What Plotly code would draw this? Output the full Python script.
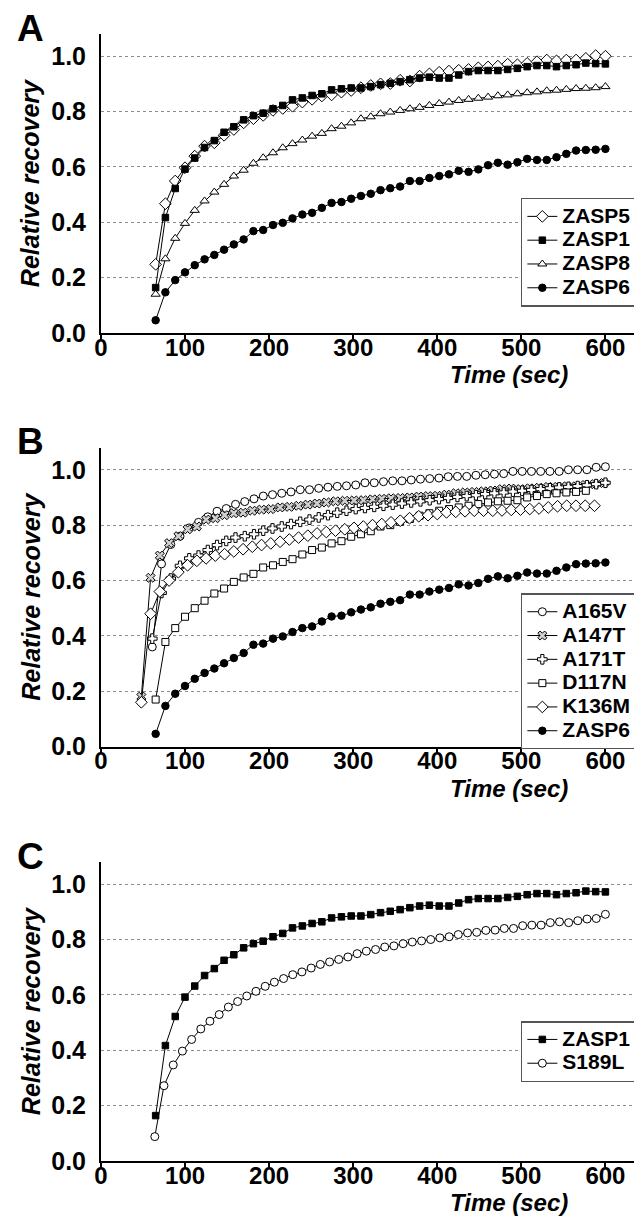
import plotly.graph_objects as go

FONT = "Liberation Sans, Arial, Helvetica, sans-serif"

# ---------------- time grids (sec) ----------------
t_a = [65.0, 76.6, 88.3, 99.9, 111.5, 123.2, 134.8, 146.4, 158.0, 169.7, 181.3, 192.9,
       204.6, 216.2, 227.8, 239.5, 251.1, 262.7, 274.3, 286.0, 297.6, 309.2, 320.9, 332.5,
       344.1, 355.8, 367.4, 379.0, 390.6, 402.3, 413.9, 425.5, 437.2, 448.8, 460.4, 472.1,
       483.7, 495.3, 506.9, 518.6, 530.2, 541.8, 553.5, 565.1, 576.7, 588.4, 600.0]
t_b61 = [61, 72, 83, 94, 105, 116, 127, 138, 149, 160, 171, 182, 193, 204, 215, 226, 237,
         248, 259, 270, 281, 292, 303, 314, 325, 336, 347, 358, 369, 380, 391, 402, 413, 424,
         435, 446, 457, 468, 479, 490, 501, 512, 523, 534, 545, 556, 567, 578, 589, 600]
t_b48 = [48, 59, 70, 81, 92, 103, 114, 125, 136, 147, 158, 169, 180, 191, 202, 213, 224,
         235, 246, 257, 268, 279, 290, 301, 312, 323, 334, 345, 356, 367, 378, 389, 400, 411,
         422, 433, 444, 455, 466, 477, 488, 499, 510, 521, 532, 543, 554, 565, 576, 587, 598]
t_c = [64.0, 74.9, 85.9, 96.8, 107.8, 118.7, 129.6, 140.6, 151.5, 162.5, 173.4, 184.3,
       195.3, 206.2, 217.2, 228.1, 239.0, 250.0, 260.9, 271.9, 282.8, 293.7, 304.7, 315.6,
       326.6, 337.5, 348.4, 359.4, 370.3, 381.3, 392.2, 403.1, 414.1, 425.0, 436.0, 446.9,
       457.8, 468.8, 479.7, 490.7, 501.6, 512.5, 523.5, 534.4, 545.4, 556.3, 567.2, 578.2,
       589.1, 600.0]

# ---------------- panel A ----------------
zasp5 = [0.248, 0.467, 0.549, 0.597, 0.639, 0.675, 0.687, 0.714, 0.735, 0.759, 0.774, 0.786,
         0.804, 0.811, 0.819, 0.834, 0.844, 0.856, 0.860, 0.870, 0.876, 0.886, 0.894, 0.900,
         0.901, 0.913, 0.910, 0.928, 0.936, 0.942, 0.946, 0.949, 0.952, 0.958, 0.961, 0.964,
         0.971, 0.969, 0.974, 0.980, 0.986, 0.983, 0.986, 0.986, 0.992, 1.002, 1.000]
zasp1 = [0.164, 0.417, 0.522, 0.592, 0.632, 0.670, 0.695, 0.725, 0.745, 0.770, 0.785, 0.794,
         0.810, 0.822, 0.842, 0.849, 0.858, 0.864, 0.878, 0.882, 0.885, 0.885, 0.890, 0.897,
         0.902, 0.908, 0.915, 0.921, 0.924, 0.921, 0.921, 0.932, 0.944, 0.948, 0.948, 0.948,
         0.952, 0.956, 0.962, 0.966, 0.966, 0.962, 0.966, 0.969, 0.975, 0.973, 0.972]
zasp8 = [0.140, 0.268, 0.342, 0.396, 0.443, 0.477, 0.509, 0.537, 0.567, 0.588, 0.613, 0.633,
         0.651, 0.669, 0.684, 0.697, 0.711, 0.721, 0.738, 0.747, 0.759, 0.774, 0.781, 0.792,
         0.798, 0.804, 0.810, 0.815, 0.822, 0.829, 0.834, 0.840, 0.844, 0.848, 0.852, 0.857,
         0.860, 0.864, 0.868, 0.871, 0.875, 0.877, 0.880, 0.883, 0.884, 0.886, 0.890]
zasp6 = [0.046, 0.147, 0.191, 0.219, 0.245, 0.266, 0.282, 0.301, 0.320, 0.338, 0.368, 0.372,
         0.390, 0.398, 0.414, 0.428, 0.434, 0.452, 0.470, 0.473, 0.485, 0.495, 0.503, 0.516,
         0.523, 0.529, 0.549, 0.549, 0.560, 0.567, 0.573, 0.586, 0.582, 0.591, 0.606, 0.615,
         0.608, 0.617, 0.629, 0.625, 0.625, 0.635, 0.647, 0.659, 0.661, 0.662, 0.665]

# ---------------- panel B ----------------
a165v = [0.36, 0.66, 0.73, 0.76, 0.79, 0.81, 0.83, 0.85, 0.86, 0.875, 0.885, 0.895, 0.905,
         0.91, 0.915, 0.92, 0.928, 0.928, 0.933, 0.937, 0.94, 0.942, 0.945, 0.953, 0.953,
         0.957, 0.96, 0.96, 0.963, 0.966, 0.968, 0.97, 0.975, 0.976, 0.976, 0.98, 0.982,
         0.984, 0.986, 0.994, 0.994, 0.994, 0.994, 0.994, 0.994, 1.0, 1.0, 1.0, 1.009, 1.011]
a147t = [0.18, 0.61, 0.69, 0.735, 0.76, 0.785, 0.795, 0.82, 0.825, 0.836, 0.843, 0.845,
         0.852, 0.856, 0.858, 0.864, 0.866, 0.87, 0.874, 0.878, 0.882, 0.886, 0.888, 0.889,
         0.89, 0.893, 0.895, 0.897, 0.898, 0.9, 0.903, 0.905, 0.906, 0.91, 0.915, 0.918, 0.92,
         0.922, 0.925, 0.93, 0.932, 0.93, 0.933, 0.935, 0.938, 0.938, 0.94, 0.94, 0.945,
         0.948, 0.952]
a171t = [0.39, 0.555, 0.607, 0.653, 0.68, 0.69, 0.71, 0.728, 0.743, 0.755, 0.76, 0.767,
         0.78, 0.788, 0.795, 0.804, 0.812, 0.82, 0.828, 0.836, 0.845, 0.852, 0.858, 0.862,
         0.866, 0.87, 0.874, 0.878, 0.882, 0.886, 0.89, 0.894, 0.898, 0.902, 0.905, 0.908,
         0.912, 0.915, 0.918, 0.921, 0.924, 0.927, 0.93, 0.933, 0.936, 0.938, 0.941, 0.944,
         0.948, 0.953]
d117n = [0.17, 0.378, 0.428, 0.469, 0.50, 0.527, 0.553, 0.571, 0.595, 0.611, 0.624, 0.647,
         0.655, 0.667, 0.677, 0.694, 0.71, 0.719, 0.734, 0.742, 0.758, 0.767, 0.778, 0.795,
         0.80, 0.812, 0.822, 0.834, 0.843, 0.852, 0.858, 0.864, 0.87, 0.876, 0.882, 0.886,
         0.888, 0.89, 0.9, 0.905, 0.912, 0.915, 0.918, 0.92, 0.924]
k136m = [0.16, 0.48, 0.56, 0.60, 0.63, 0.655, 0.671, 0.68, 0.69, 0.695, 0.705, 0.713, 0.722,
         0.728, 0.734, 0.74, 0.748, 0.755, 0.762, 0.77, 0.775, 0.78, 0.785, 0.79, 0.795, 0.80,
         0.804, 0.81, 0.816, 0.825, 0.832, 0.836, 0.84, 0.846, 0.848, 0.85, 0.852, 0.852,
         0.852, 0.853, 0.855, 0.856, 0.858, 0.86, 0.864, 0.868, 0.87, 0.87, 0.87, 0.87]

# ---------------- panel C ----------------
s189l = [0.088, 0.272, 0.347, 0.397, 0.439, 0.477, 0.505, 0.529, 0.556, 0.576, 0.596, 0.613,
         0.631, 0.646, 0.659, 0.673, 0.683, 0.697, 0.710, 0.719, 0.728, 0.737, 0.749, 0.758,
         0.764, 0.773, 0.777, 0.785, 0.791, 0.795, 0.800, 0.806, 0.810, 0.818, 0.824, 0.826,
         0.833, 0.834, 0.840, 0.840, 0.850, 0.852, 0.852, 0.861, 0.864, 0.861, 0.868, 0.874,
         0.876, 0.891]

x_ticks = [0, 100, 200, 300, 400, 500, 600]
y_ticks = [0.0, 0.2, 0.4, 0.6, 0.8, 1.0]
y_ticktext = ["0.0", "0.2", "0.4", "0.6", "0.8", "1.0"]
panel_letters = ["A", "B", "C"]

fig = go.Figure()


def add(x, y, name, panel, symbol, fill, size):
    sfx = "" if panel == 1 else str(panel)
    fig.add_trace(go.Scatter(
        x=x, y=y, mode="lines+markers",
        name='<span style="font-size:21px">%s</span>' % name,
        line=dict(color="black", width=1),
        marker=dict(symbol=symbol, color=fill, size=size,
                    line=dict(color="black", width=1)),
        xaxis="x" + sfx, yaxis="y" + sfx, legend="legend" + sfx,
        cliponaxis=False,
    ))


# Panel A
add(t_a, zasp5, "ZASP5", 1, "diamond", "white", 9)
add(t_a, zasp1, "ZASP1", 1, "square", "black", 6.5)
add(t_a, zasp8, "ZASP8", 1, "triangle-up", "white", 8)
add(t_a, zasp6, "ZASP6", 1, "circle", "black", 7.5)
# Panel B
add(t_b61, a165v, "A165V", 2, "circle", "white", 8)
add(t_b48, a147t, "A147T", 2, "x", "#d0d0d0", 8)
add(t_b61, a171t, "A171T", 2, "cross", "white", 8)
add(t_a[:45], d117n, "D117N", 2, "square", "white", 7)
add(t_b48[:50], k136m, "K136M", 2, "diamond", "white", 9)
add(t_a, zasp6, "ZASP6", 2, "circle", "black", 7.5)
# Panel C
add(t_a, zasp1, "ZASP1", 3, "square", "black", 6.5)
add(t_c, s189l, "S189L", 3, "circle", "white", 8)

domains = {1: [0.7347, 1.0], 2: [0.3677, 0.633], 3: [0.0, 0.2653]}
legend_y = {1: 0.8545, 2: 0.5037, 3: 0.1242}

tickfont = dict(family=FONT, size=24, color="black", weight="bold")
# the page body has an 8px margin, so the figure is sized/offset to compensate
layout = dict(
    width=634, height=1208,
    margin=dict(l=93, r=4, t=26, b=55),
    paper_bgcolor="white", plot_bgcolor="white",
    showlegend=True,
    annotations=[],
)

for i in (1, 2, 3):
    sfx = "" if i == 1 else str(i)
    layout["xaxis" + sfx] = dict(
        domain=[0, 1], range=[0, 634], anchor="y" + sfx,
        tickmode="array", tickvals=x_ticks,
        showline=True, linecolor="black", linewidth=2,
        ticks="outside", ticklen=4, tickwidth=1.5, tickcolor="black",
        ticklabelstandoff=-12,
        showgrid=False, zeroline=False, tickfont=tickfont,
    )
    layout["yaxis" + sfx] = dict(
        domain=domains[i], range=[0, 1.08], anchor="x" + sfx,
        tickmode="array", tickvals=y_ticks, ticktext=y_ticktext,
        showline=True, linecolor="black", linewidth=2, ticks="",
        showgrid=True, gridcolor="#8c8c8c", gridwidth=1, griddash="dot",
        zeroline=False, tickfont=dict(tickfont, size=25), ticklabelstandoff=8,
    )
    layout["legend" + sfx] = dict(
        x=0.7877, y=legend_y[i], xanchor="left", yanchor="top",
        bgcolor="white", bordercolor="#555555", borderwidth=1.5,
        font=dict(family=FONT, size=16, color="black", weight="bold"),
        itemwidth=30, tracegroupgap=0,
    )
    layout["annotations"] += [
        dict(text=panel_letters[i - 1], xref="x%s domain" % sfx, yref="y%s domain" % sfx,
             x=-0.132, y=1.02, xanchor="center", yanchor="middle", showarrow=False,
             font=dict(family=FONT, size=37, color="black", weight="bold")),
        dict(text="Relative recovery", xref="x%s domain" % sfx, yref="y%s domain" % sfx,
             x=-0.132, y=0.5, xanchor="center", yanchor="middle", textangle=-90,
             showarrow=False,
             font=dict(family=FONT, size=25, color="black", weight="bold", style="italic")),
        dict(text="Time (sec)", xref="x%s domain" % sfx, yref="y%s domain" % sfx,
             x=0.766, y=-0.14, xanchor="center", yanchor="middle", showarrow=False,
             font=dict(family=FONT, size=24, color="black", weight="bold", style="italic")),
    ]

fig.update_layout(**layout)
fig.write_html("out.html", config={"displayModeBar": False})
